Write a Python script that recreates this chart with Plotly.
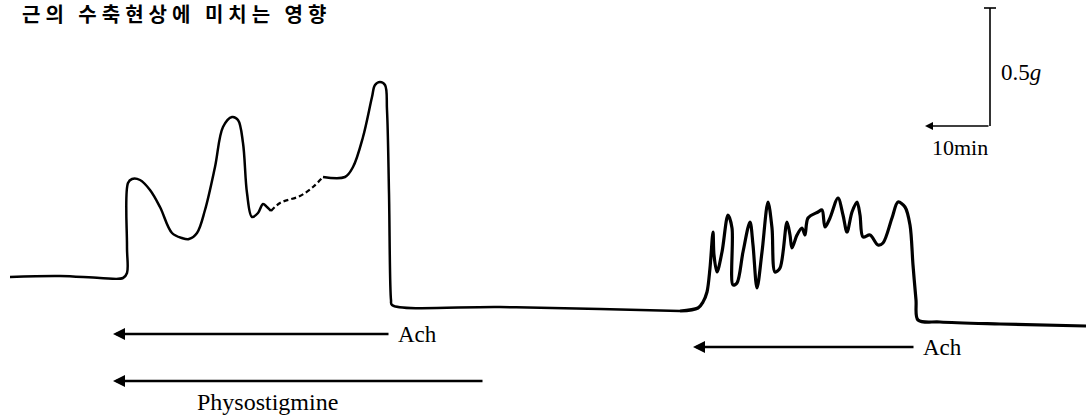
import plotly.graph_objects as go

# ---- data (chart units: time axis left->right, tension axis top->bottom) ----
# first response (Ach + Physostigmine)
trace1_time = [10, 60, 100, 123, 127, 127, 128, 132, 140, 150, 160, 172, 182, 189, 197,
               205, 215, 223, 232, 238, 243, 247, 252, 258, 263, 267, 271]
trace1_tension = [277, 276, 278, 278, 273, 247, 183, 179, 180, 190, 207, 233, 238, 239, 233,
                  210, 167, 127, 117, 120, 143, 193, 217, 213, 204, 207, 211]
# faint (dashed) part of the recording
trace1b_time = [271, 280, 300, 313, 323]
trace1b_tension = [211, 203, 196, 187, 177]
trace1c_time = [323, 345, 353, 363, 372, 375, 380, 385, 387, 389, 391, 392, 500, 600, 680]
trace1c_tension = [177, 177, 167, 137, 97, 85, 82, 85, 110, 193, 300, 305, 307, 309, 311]
# second response (Ach alone)
trace2_time = [680, 698, 703, 707, 710, 713, 714, 717, 722, 728, 732, 733, 737, 743, 750,
               753, 757, 762, 768, 772, 775, 780, 787, 790, 792, 797, 802, 805, 808, 818,
               822, 825, 830, 838, 843, 847, 852, 857, 860, 863, 870, 878, 883, 892, 898,
               905, 910, 913, 916, 918, 940, 1000, 1086]
trace2_tension = [311, 308, 302, 292, 268, 232, 255, 272, 252, 215, 228, 285, 283, 252, 222,
                  245, 288, 252, 202, 228, 272, 268, 222, 235, 248, 235, 228, 235, 218, 212,
                  210, 227, 218, 198, 215, 232, 212, 202, 215, 237, 235, 245, 243, 218, 202,
                  207, 225, 265, 300, 320, 322, 324, 326]

# drug application bars: (label, start, end, level)
drug_labels = ["Ach", "Physostigmine", "Ach"]
drug_start = [113, 113, 693]
drug_end = [390, 484, 915]
drug_level = [334, 381, 347]

# calibration bar
cal_x = 990
cal_top = 8
cal_bottom = 126
cal_time_end = 925

title = "근의 수축현상에 미치는 영향"

fig = go.Figure()
line = dict(color="black", width=2.5)
fig.add_trace(go.Scatter(x=trace1_time, y=trace1_tension, mode="lines", line=line,
                         line_shape="spline", hoverinfo="skip"))
fig.add_trace(go.Scatter(x=trace1b_time, y=trace1b_tension, mode="lines",
                         line=dict(color="black", width=2.2, dash="5px,3px"),
                         line_shape="spline", hoverinfo="skip"))
fig.add_trace(go.Scatter(x=trace1c_time, y=trace1c_tension, mode="lines", line=line,
                         line_shape="spline", hoverinfo="skip"))
fig.add_trace(go.Scatter(x=trace2_time, y=trace2_tension, mode="lines",
                         line=dict(color="black", width=3.2, smoothing=0.9),
                         line_shape="spline", hoverinfo="skip"))

# calibration bar
fig.add_trace(go.Scatter(x=[cal_x - 6, cal_x + 6, None, cal_x, cal_x],
                         y=[cal_top, cal_top, None, cal_top, cal_bottom],
                         mode="lines", line=dict(color="black", width=1.6), hoverinfo="skip"))
fig.add_annotation(x=cal_time_end, y=cal_bottom, ax=cal_x, ay=cal_bottom, axref="x", ayref="y",
                   xref="x", yref="y", text="", showarrow=True, arrowhead=2, arrowsize=1,
                   arrowwidth=1.6, arrowcolor="black")

serif = "Liberation Serif"
fig.add_annotation(x=cal_x + 9, y=(cal_top + cal_bottom) / 2 + 5, xref="x", yref="y",
                   text="0.5<i>g</i>", showarrow=False, xanchor="left",
                   font=dict(family=serif, size=23, color="black"))
fig.add_annotation(x=(cal_x + cal_time_end) / 2 + 2, y=cal_bottom + 21, xref="x", yref="y",
                   text="10min", showarrow=False, xanchor="center",
                   font=dict(family=serif, size=22, color="black"))

for lab, s, e, lv in zip(drug_labels, drug_start, drug_end, drug_level):
    fig.add_annotation(x=s, y=lv, ax=e, ay=lv, axref="x", ayref="y", xref="x", yref="y",
                       text="", showarrow=True, arrowhead=2, arrowsize=1, arrowwidth=2.4,
                       arrowcolor="black")
    if lab == "Physostigmine":
        fig.add_annotation(x=(s + e) / 2 - 31, y=lv + 21, xref="x", yref="y", text=lab,
                           showarrow=False, xanchor="center",
                           font=dict(family=serif, size=24, color="black"))
    else:
        fig.add_annotation(x=e + 6, y=lv, xref="x", yref="y", text=lab, showarrow=False,
                           xanchor="left", font=dict(family=serif, size=23, color="black"))

fig.add_annotation(x=20, y=13, xref="x", yref="y",
                   text='<span style="letter-spacing:5px">' + title + '</span>',
                   showarrow=False, xanchor="left",
                   font=dict(family="Noto Sans CJK KR", size=20, color="black", weight="bold"))

fig.update_layout(
    width=1086, height=417, margin=dict(l=0, r=0, t=0, b=0),
    paper_bgcolor="white", plot_bgcolor="white", showlegend=False,
    xaxis=dict(range=[0, 1086], visible=False, fixedrange=True),
    yaxis=dict(range=[417, 0], visible=False, fixedrange=True),
)
fig.write_html("out.html", config={"displayModeBar": False},
               post_script="document.body.style.margin='0';document.body.style.overflow='hidden';")
